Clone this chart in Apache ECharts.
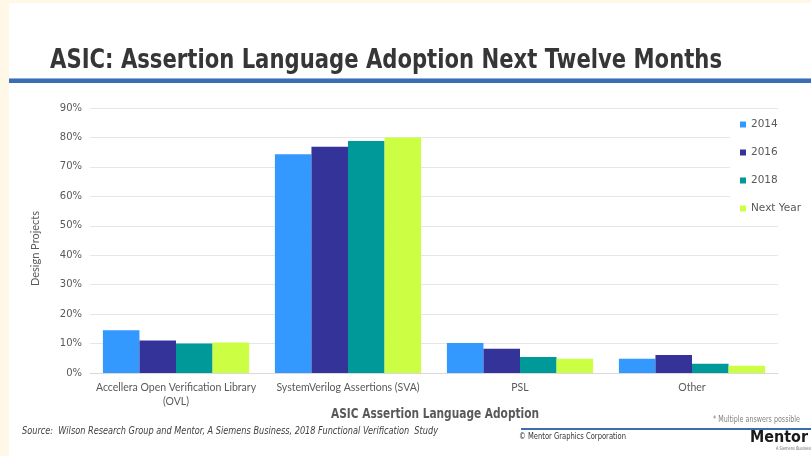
<!DOCTYPE html>
<html>
<head>
<meta charset="utf-8">
<script src="https://cdn.jsdelivr.net/npm/echarts@6/dist/echarts.min.js"></script>
<style>
  html, body { margin: 0; padding: 0; background: #fff8e6; }
  #chart { width: 811px; height: 456px; }
</style>
</head>
<body>
<div id="chart"></div>
<script>
// Assertion languages surveyed
const categories = [
  'Accellera Open Verification Library\n(OVL)',
  'SystemVerilog Assertions (SVA)',
  'PSL',
  'Other'
];

// Share of design projects (%) per survey year
const seriesNames = ['2014', '2016', '2018', 'Next Year'];
const values2014 = [14.5, 74.3, 10.2, 4.8];
const values2016 = [11.0, 76.8, 8.2, 6.1];
const values2018 = [10.0, 78.8, 5.4, 3.1];
const valuesNextYear = [10.4, 80.0, 4.8, 2.5];

const yTicks = { min: 0, max: 90, interval: 10 };

const colors = ['#3399ff', '#333399', '#009999', '#ccff44'];
const seriesData = [values2014, values2016, values2018, valuesNextYear];

// Horizontal squeeze so a text run spans the given width (the slide uses a narrow face)
const measureCtx = document.createElement('canvas').getContext('2d');
function fitScale(text, font, width) {
  measureCtx.font = font;
  return width / measureCtx.measureText(text).width;
}

// A left-anchored, vertically centred text element squeezed to a given width
function fittedText(text, x, y, width, opts) {
  const style = Object.assign({ fontFamily: 'DejaVu Sans', fontWeight: 'normal', fontStyle: 'normal' }, opts);
  const font = `${style.fontStyle} ${style.fontWeight} ${style.fontSize}px "${style.fontFamily}"`;
  return {
    type: 'text',
    x: x, y: y,
    scaleX: fitScale(text, font, width),
    style: Object.assign({ text: text, textAlign: 'left', textVerticalAlign: 'middle' }, style)
  };
}

const chart = echarts.init(document.getElementById('chart'));

chart.setOption({
  backgroundColor: 'transparent',
  animation: false,
  color: colors,
  grid: { left: 90, right: 33, top: 108, bottom: 83, containLabel: false },
  legend: {
    orient: 'vertical',
    left: 730,
    top: 115,
    itemWidth: 6,
    itemHeight: 6,
    itemGap: 17,
    icon: 'rect',
    padding: [4, 10, 6, 10],
    backgroundColor: '#ffffff',
    textStyle: { color: '#595959', fontSize: 10.5, fontFamily: 'DejaVu Sans' },
    data: seriesNames
  },
  xAxis: {
    type: 'category',
    data: categories,
    axisTick: { show: false },
    axisLine: { lineStyle: { color: '#d9d9d9', width: 1 } },
    axisLabel: {
      color: '#595959',
      fontSize: 10.5,
      fontFamily: 'Lato',
      lineHeight: 13.5,
      margin: 8,
      interval: 0
    }
  },
  yAxis: {
    type: 'value',
    min: yTicks.min,
    max: yTicks.max,
    interval: yTicks.interval,
    axisLine: { show: false },
    axisTick: { show: false },
    splitLine: { lineStyle: { color: '#e6e6e6', width: 1 } },
    axisLabel: {
      formatter: '{value}%',
      color: '#595959',
      fontSize: 10,
      fontFamily: 'DejaVu Sans',
      margin: 8
    },
    name: 'Design Projects',
    nameLocation: 'middle',
    nameGap: 49,
    nameTextStyle: { color: '#595959', fontSize: 11, fontFamily: 'Lato', padding: [0, 16, 0, 0] }
  },
  series: seriesNames.map((name, i) => ({
    name: name,
    type: 'bar',
    data: seriesData[i],
    barGap: '0%',
    barCategoryGap: '15%',
    itemStyle: { color: colors[i] }
  })),
  graphic: [
    // white slide body
    { type: 'rect', z: -10, shape: { x: 9, y: 3, width: 802, height: 453 }, style: { fill: '#ffffff' } },
    // slide heading
    fittedText('ASIC: Assertion Language Adoption Next Twelve Months', 50, 61, 672,
      { fill: '#363636', fontSize: 26, fontWeight: 'bold' }),
    // heading rule
    { type: 'rect', shape: { x: 9, y: 78, width: 802, height: 1 }, style: { fill: '#8fb0dc' } },
    { type: 'rect', shape: { x: 9, y: 79, width: 802, height: 4 }, style: { fill: '#3b6db3' } },
    // category axis title
    fittedText('ASIC Assertion Language Adoption', 331, 414, 208,
      { fill: '#595959', fontSize: 13.5, fontWeight: 'bold' }),
    // footnotes
    fittedText('* Multiple answers possible', 713, 420, 87,
      { fill: '#7f7f7f', fontSize: 8 }),
    fittedText('Source:  Wilson Research Group and Mentor, A Siemens Business, 2018 Functional Verification  Study', 22, 431, 416,
      { fill: '#404040', fontSize: 10, fontStyle: 'italic' }),
    // footer rule and branding
    { type: 'rect', shape: { x: 521, y: 428, width: 290, height: 2 }, style: { fill: '#3b6db3' } },
    fittedText('© Mentor Graphics Corporation', 519, 437, 107,
      { fill: '#333333', fontSize: 9 }),
    fittedText('Mentor', 750, 438, 58,
      { fill: '#1a1a1a', fontSize: 15, fontWeight: 'bold' }),
    fittedText('A Siemens Business', 776, 449, 36,
      { fill: '#666666', fontSize: 5 })
  ]
});
</script>
</body>
</html>
